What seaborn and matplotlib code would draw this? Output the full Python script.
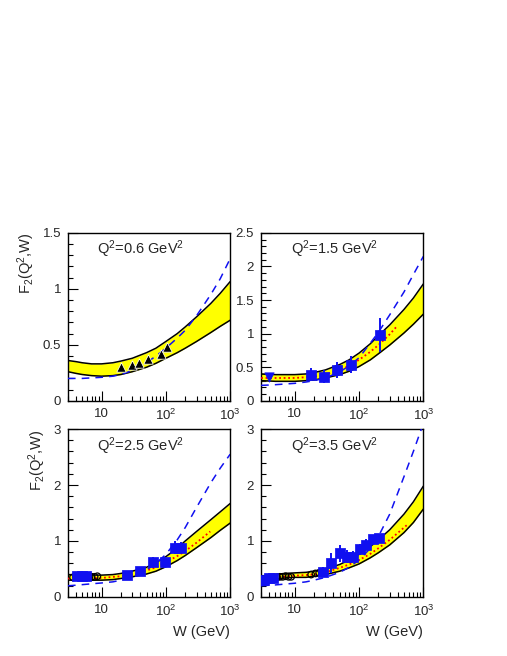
import numpy as np
import pandas as pd
import seaborn as sns
import matplotlib
matplotlib.use('Agg')
import matplotlib.pyplot as plt
from matplotlib.ticker import FixedLocator, MultipleLocator, NullFormatter

sns.set_style('white')
plt.rcParams['font.family'] = ['Liberation Sans', 'DejaVu Sans']
plt.rcParams['mathtext.default'] = 'regular'

# common W grid for the model curves (GeV)
w_grid = [3, 4, 5, 7, 10, 15, 20, 30, 50, 70, 100, 150, 200, 300, 500, 700, 1000]

# Q2 = 0.6
q06_upper = [0.36, 0.35, 0.34, 0.33, 0.33, 0.34, 0.355, 0.38, 0.43, 0.47, 0.53, 0.60, 0.66, 0.75, 0.87, 0.96, 1.065]
q06_lower = [0.26, 0.245, 0.235, 0.225, 0.22, 0.225, 0.235, 0.26, 0.30, 0.335, 0.38, 0.43, 0.47, 0.53, 0.61, 0.665, 0.72]
q06_dash = [0.20, 0.20, 0.20, 0.205, 0.21, 0.22, 0.235, 0.27, 0.34, 0.40, 0.47, 0.56, 0.63, 0.76, 0.95, 1.09, 1.27]
q06_tri_w = [20.3, 29.7, 38.5, 53.4, 84, 106]
q06_tri_f2 = [0.30, 0.32, 0.34, 0.37, 0.42, 0.48]

# Q2 = 1.5
q15_upper = [0.40, 0.395, 0.39, 0.39, 0.39, 0.40, 0.42, 0.46, 0.54, 0.61, 0.71, 0.85, 0.97, 1.13, 1.36, 1.53, 1.74]
q15_lower = [0.30, 0.295, 0.29, 0.29, 0.29, 0.30, 0.31, 0.34, 0.39, 0.44, 0.51, 0.61, 0.70, 0.83, 1.01, 1.14, 1.29]
q15_dash = [0.23, 0.235, 0.24, 0.25, 0.26, 0.28, 0.30, 0.34, 0.43, 0.52, 0.64, 0.86, 1.02, 1.28, 1.62, 1.88, 2.15]
q15_dot_w = [3, 5, 10, 20, 30, 50, 70, 100, 150, 200, 300, 380]
q15_dot = [0.34, 0.34, 0.34, 0.36, 0.39, 0.46, 0.52, 0.61, 0.73, 0.83, 0.99, 1.10]
q15_sq_w = [18, 29, 46, 75, 213]
q15_sq_f2 = [0.39, 0.36, 0.46, 0.54, 0.98]
q15_sq_err = [0.10, 0.10, 0.12, 0.12, 0.25]
q15_inv_w = [4.0]
q15_inv_f2 = [0.36]

# Q2 = 2.5
q25_upper = [0.40, 0.395, 0.39, 0.39, 0.39, 0.40, 0.42, 0.46, 0.53, 0.61, 0.72, 0.87, 1.00, 1.17, 1.38, 1.52, 1.67]
q25_lower = [0.30, 0.30, 0.30, 0.30, 0.30, 0.31, 0.33, 0.36, 0.41, 0.46, 0.54, 0.65, 0.74, 0.88, 1.06, 1.19, 1.32]
q25_dash = [0.20, 0.21, 0.22, 0.235, 0.25, 0.27, 0.30, 0.37, 0.48, 0.60, 0.76, 1.02, 1.24, 1.60, 2.04, 2.30, 2.55]
q25_dot_w = [3, 5, 10, 20, 30, 50, 70, 100, 150, 200, 300, 490]
q25_dot = [0.33, 0.33, 0.34, 0.37, 0.40, 0.47, 0.53, 0.62, 0.73, 0.82, 0.97, 1.17]
q25_circ_w = [3.6, 4.0, 4.4, 4.8, 5.3, 5.8, 6.4, 7.0, 7.8, 8.6]
q25_circ_f2 = [0.35, 0.37, 0.36, 0.37, 0.35, 0.36, 0.35, 0.36, 0.36, 0.37]
q25_sq_w = [4.2, 5.0, 5.8, 24.5, 39, 62, 96, 137, 170]
q25_sq_f2 = [0.38, 0.38, 0.37, 0.40, 0.47, 0.62, 0.62, 0.88, 0.88]
q25_sq_err = [0.03, 0.03, 0.03, 0.06, 0.07, 0.10, 0.10, 0.12, 0.10]

# Q2 = 3.5
q35_upper = [0.37, 0.39, 0.40, 0.42, 0.43, 0.44, 0.46, 0.50, 0.58, 0.66, 0.76, 0.90, 1.02, 1.20, 1.48, 1.70, 1.98]
q35_lower = [0.29, 0.31, 0.32, 0.34, 0.35, 0.35, 0.37, 0.40, 0.46, 0.52, 0.59, 0.70, 0.79, 0.93, 1.15, 1.33, 1.57]
q35_dash = [0.20, 0.21, 0.215, 0.23, 0.245, 0.27, 0.30, 0.35, 0.44, 0.53, 0.66, 0.87, 1.08, 1.48, 2.15, 2.60, 3.10]
q35_dot_w = [3, 5, 10, 20, 30, 50, 70, 100, 150, 200, 300, 550]
q35_dot = [0.32, 0.35, 0.38, 0.40, 0.44, 0.52, 0.58, 0.66, 0.77, 0.87, 1.02, 1.28]
q35_circ_w = [3.2, 3.5, 3.9, 4.3, 4.8, 5.3, 5.9, 6.5, 7.2, 8.0, 8.8, 18, 21, 24]
q35_circ_f2 = [0.30, 0.31, 0.32, 0.33, 0.35, 0.35, 0.36, 0.36, 0.37, 0.36, 0.36, 0.40, 0.42, 0.43]
q35_sq_w = [3.3, 4.0, 4.6, 28, 37, 50, 64, 81, 103, 130, 167, 206]
q35_sq_f2 = [0.30, 0.33, 0.34, 0.45, 0.61, 0.78, 0.72, 0.72, 0.85, 0.93, 1.03, 1.05]
q35_sq_err = [0.03, 0.03, 0.03, 0.08, 0.18, 0.15, 0.12, 0.10, 0.10, 0.10, 0.08, 0.08]

BLUE = '#1010f0'

fig = plt.figure(figsize=(5.07, 6.56), dpi=100)
pw, ph = 0.320, 0.256
axes = [fig.add_axes([0.134, 0.389, pw, ph]), fig.add_axes([0.515, 0.389, pw, ph]),
        fig.add_axes([0.134, 0.090, pw, ph]), fig.add_axes([0.515, 0.090, pw, ph])]


def band(ax, upper, lower, dash):
    ax.fill_between(w_grid, lower, upper, color='#ffff00', lw=0, zorder=1)
    sns.lineplot(x=w_grid, y=upper, color='black', lw=1.1, ax=ax, estimator=None, zorder=3)
    sns.lineplot(x=w_grid, y=lower, color='black', lw=1.1, ax=ax, estimator=None, zorder=3)
    ax.plot(w_grid, dash, color=BLUE, lw=1.1, dashes=(5, 4), zorder=4)


def dotted(ax, w, f2):
    ax.plot(w, f2, color='#ff0000', lw=1.3, ls=(0, (1, 1.5)), zorder=4)


def squares(ax, w, f2, err):
    ax.errorbar(w, f2, yerr=err, fmt='none', ecolor=BLUE, elinewidth=1.4, zorder=5)
    sns.scatterplot(x=w, y=f2, marker='s', s=44, color=BLUE, edgecolor=BLUE, ax=ax, zorder=6)


def circles(ax, w, f2):
    ax.scatter(w, f2, s=22, facecolor='none', edgecolor='black', lw=0.9, zorder=5)


# panel Q2=0.6
ax = axes[0]
band(ax, q06_upper, q06_lower, q06_dash)
sns.scatterplot(x=q06_tri_w, y=q06_tri_f2, marker='^', s=45, color='black', ax=ax, zorder=6)

# panel Q2=1.5
ax = axes[1]
band(ax, q15_upper, q15_lower, q15_dash)
dotted(ax, q15_dot_w, q15_dot)
squares(ax, q15_sq_w, q15_sq_f2, q15_sq_err)
sns.scatterplot(x=q15_inv_w, y=q15_inv_f2, marker='v', s=45, color=BLUE, edgecolor=BLUE, ax=ax, zorder=6)

# panel Q2=2.5
ax = axes[2]
band(ax, q25_upper, q25_lower, q25_dash)
dotted(ax, q25_dot_w, q25_dot)
circles(ax, q25_circ_w, q25_circ_f2)
squares(ax, q25_sq_w, q25_sq_f2, q25_sq_err)

# panel Q2=3.5
ax = axes[3]
band(ax, q35_upper, q35_lower, q35_dash)
dotted(ax, q35_dot_w, q35_dot)
circles(ax, q35_circ_w, q35_circ_f2)
squares(ax, q35_sq_w, q35_sq_f2, q35_sq_err)

titles = ['Q$^2$=0.6 GeV$^2$', 'Q$^2$=1.5 GeV$^2$', 'Q$^2$=2.5 GeV$^2$', 'Q$^2$=3.5 GeV$^2$']
ylims = [1.5, 2.5, 3, 3]
ymajor = [[0, 0.5, 1, 1.5], [0, 0.5, 1, 1.5, 2, 2.5], [0, 1, 2, 3], [0, 1, 2, 3]]
yminor = [0.1, 0.1, 0.2, 0.2]

for i, ax in enumerate(axes):
    ax.set_xscale('log')
    ax.set_xlim(3, 1000)
    ax.set_ylim(0, ylims[i])
    ax.xaxis.set_major_locator(FixedLocator([10, 100, 1000]))
    ax.set_xticklabels(['10', '10$^2$', '10$^3$'])
    ax.xaxis.set_minor_locator(FixedLocator([k * 10 ** e for e in range(0, 3) for k in range(2, 10)]))
    ax.xaxis.set_minor_formatter(NullFormatter())
    ax.yaxis.set_major_locator(FixedLocator(ymajor[i]))
    ax.set_yticklabels([('%g' % v) for v in ymajor[i]])
    ax.yaxis.set_minor_locator(MultipleLocator(yminor[i]))
    ax.tick_params(which='both', direction='in', bottom=True, left=True, top=False, right=False,
                   labelsize=9.5, pad=5, color='black')
    ax.tick_params(which='major', length=7, width=0.8)
    ax.tick_params(which='minor', length=3.5, width=0.8)
    for s in ax.spines.values():
        s.set_color('black')
        s.set_linewidth(1.0)
    ax.text(0.45, 0.90, titles[i], transform=ax.transAxes, ha='center', va='center', fontsize=10.5)
    if i % 2 == 0:
        ax.set_ylabel('F$_2$(Q$^2$,W)', loc='top', fontsize=10.5)
    if i >= 2:
        ax.set_xlabel('W (GeV)', loc='right', fontsize=10.5)

fig.savefig('out.png', dpi=100)
